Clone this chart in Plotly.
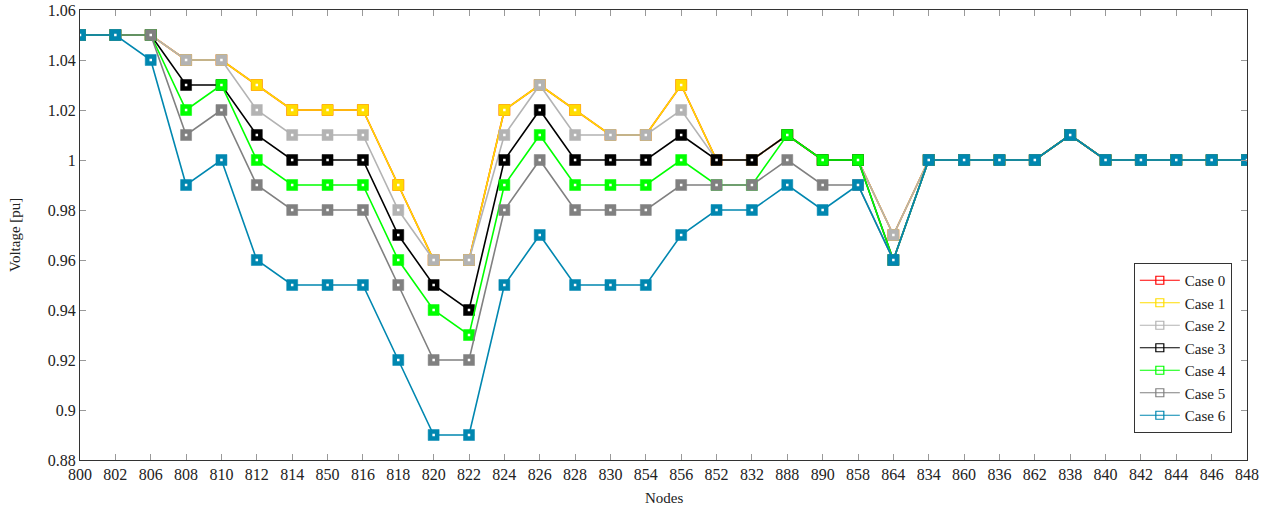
import plotly.graph_objects as go

nodes = ["800", "802", "806", "808", "810", "812", "814", "850", "816", "818",
         "820", "822", "824", "826", "828", "830", "854", "856", "852", "832",
         "888", "890", "858", "864", "834", "860", "836", "862", "838", "840",
         "842", "844", "846", "848"]

tail = [1.00, 1.00, 1.00, 1.00, 1.01, 1.00, 1.00, 1.00, 1.00, 1.00]

case0 = [1.05, 1.05, 1.05, 1.04, 1.04, 1.03, 1.02, 1.02, 1.02, 0.99,
         0.96, 0.96, 1.02, 1.03, 1.02, 1.01, 1.01, 1.03, 1.00, 1.00,
         1.01, 1.00, 1.00, 0.97] + tail
case1 = [1.05, 1.05, 1.05, 1.04, 1.04, 1.03, 1.02, 1.02, 1.02, 0.99,
         0.96, 0.96, 1.02, 1.03, 1.02, 1.01, 1.01, 1.03, 1.00, 1.00,
         1.01, 1.00, 1.00, 0.97] + tail
case2 = [1.05, 1.05, 1.05, 1.04, 1.04, 1.02, 1.01, 1.01, 1.01, 0.98,
         0.96, 0.96, 1.01, 1.03, 1.01, 1.01, 1.01, 1.02, 1.00, 1.00,
         1.01, 1.00, 1.00, 0.97] + tail
case3 = [1.05, 1.05, 1.05, 1.03, 1.03, 1.01, 1.00, 1.00, 1.00, 0.97,
         0.95, 0.94, 1.00, 1.02, 1.00, 1.00, 1.00, 1.01, 1.00, 1.00,
         1.01, 1.00, 1.00, 0.96] + tail
case4 = [1.05, 1.05, 1.05, 1.02, 1.03, 1.00, 0.99, 0.99, 0.99, 0.96,
         0.94, 0.93, 0.99, 1.01, 0.99, 0.99, 0.99, 1.00, 0.99, 0.99,
         1.01, 1.00, 1.00, 0.96] + tail
case5 = [1.05, 1.05, 1.05, 1.01, 1.02, 0.99, 0.98, 0.98, 0.98, 0.95,
         0.92, 0.92, 0.98, 1.00, 0.98, 0.98, 0.98, 0.99, 0.99, 0.99,
         1.00, 0.99, 0.99, 0.96] + tail
case6 = [1.05, 1.05, 1.04, 0.99, 1.00, 0.96, 0.95, 0.95, 0.95, 0.92,
         0.89, 0.89, 0.95, 0.97, 0.95, 0.95, 0.95, 0.97, 0.98, 0.98,
         0.99, 0.98, 0.99, 0.96] + tail

series = [case0, case1, case2, case3, case4, case5, case6]
names = ["Case 0", "Case 1", "Case 2", "Case 3", "Case 4", "Case 5", "Case 6"]
colors = ["#ff0000", "#ffdd00", "#b3b3b3", "#000000", "#00ff00", "#808080", "#0087b0"]

ytickvals = [0.88, 0.90, 0.92, 0.94, 0.96, 0.98, 1.00, 1.02, 1.04, 1.06]
yticktext = ["0.88", "0.9", "0.92", "0.94", "0.96", "0.98", "1", "1.02", "1.04", "1.06"]

FONT = "Liberation Serif"

fig = go.Figure()
for ys, nm, col in zip(series, names, colors):
    fig.add_trace(go.Scatter(
        x=nodes, y=ys, mode="lines+markers", name=nm, showlegend=False,
        line=dict(color=col, width=1.6),
        marker=dict(symbol="square", size=11, color=col, line=dict(color=col, width=0.5)),
    ))
    fig.add_trace(go.Scatter(
        x=nodes, y=ys, mode="markers", showlegend=False, hoverinfo="skip",
        marker=dict(symbol="square", size=2.5, color="white"),
    ))
for nm, col in zip(names, colors):
    fig.add_trace(go.Scatter(
        x=[None], y=[None], mode="lines+markers", name=nm,
        line=dict(color=col, width=1.2),
        marker=dict(symbol="square-open", size=8, color=col, line=dict(color=col, width=1.2)),
    ))

fig.update_layout(
    width=1274, height=510,
    margin=dict(l=80, r=27, t=10, b=50),
    plot_bgcolor="white", paper_bgcolor="white",
    font=dict(family=FONT, size=15, color="#222"),
    legend=dict(
        x=0.987, y=0.06, xanchor="right", yanchor="bottom",
        bordercolor="#333", borderwidth=1, bgcolor="white",
        font=dict(family=FONT, size=15), itemwidth=40,
        tracegroupgap=0,
    ),
    annotations=[
        dict(text="Nodes", xref="paper", yref="paper", x=0.5, y=-0.084,
             xanchor="center", yanchor="middle", showarrow=False,
             font=dict(family=FONT, size=15, color="#222")),
        dict(text="Voltage [pu]", xref="paper", yref="paper", x=-0.0557, y=0.5,
             xanchor="center", yanchor="middle", textangle=-90, showarrow=False,
             font=dict(family=FONT, size=15, color="#222")),
    ],
)
fig.update_xaxes(
    type="category", range=[0, len(nodes) - 1], automargin=False,
    ticklabeloverflow="allow",
    showline=True, linecolor="#333", linewidth=1.2, mirror="ticks",
    ticks="inside", ticklen=6, tickcolor="#999",
    showgrid=False, zeroline=False,
    tickfont=dict(family=FONT, size=16),
)
fig.update_yaxes(
    range=[0.88, 1.06], tickvals=ytickvals, ticktext=yticktext, automargin=False,
    ticklabeloverflow="allow",
    showline=True, linecolor="#333", linewidth=1.2, mirror="ticks",
    ticks="inside", ticklen=6, tickcolor="#999",
    showgrid=False, zeroline=False,
    tickfont=dict(family=FONT, size=16),
)

fig.write_html("out.html", config={"displayModeBar": False},
               post_script="document.body.style.margin='0px';")
